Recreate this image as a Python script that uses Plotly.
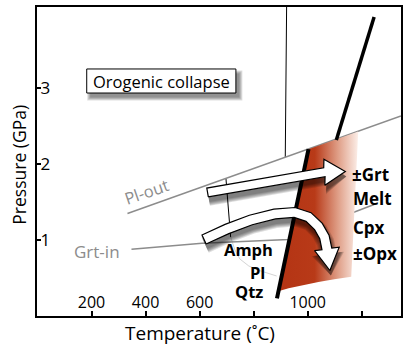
import numpy as np
import plotly.graph_objects as go

# ---- axes -------------------------------------------------------------
T_RANGE = [-1.8, 1345.3]          # temperature, deg C
P_RANGE = [0.01, 4.058]           # pressure, GPa
T_TICKS = [200, 400, 600, 800, 1000, 1200]
T_TICK_TEXT = ["200", "400", "600", "", "1000", ""]
P_TICKS = [1, 2, 3]
P_TICK_TEXT = ["1", "2", "3"]

# ---- reaction curves (T, P) ------------------------------------------
pl_out_T = [333.0, 1345.0]
pl_out_P = [1.353, 2.629]

grt_in_T = [347.8, 609.1, 929.3, 1061.8, 1245.8]
grt_in_P = [0.884, 0.963, 1.012, 1.222, 1.471]

solidus_hi_T = [1245.8, 1106.0]
solidus_hi_P = [3.927, 2.316]
solidus_lo_T = [1003.0, 886.3]
solidus_lo_P = [2.196, 0.242]

thin_hi_T = [922.0, 917.0]
thin_hi_P = [4.06, 2.093]
thin_lo_T = [697.5, 714.8]
thin_lo_P = [1.810, 1.045]

amph_T = [714.8, 730.6, 748.9, 782.1, 826.3, 885.2]
amph_P = [1.045, 0.875, 0.757, 0.665, 0.600, 0.534]

# partial-melt field
melt_T = [1003.0, 894.4, 929.3, 984.5, 1039.7, 1098.6, 1161.2, 1187.0]
melt_P = [2.196, 0.338, 0.373, 0.417, 0.456, 0.491, 0.525, 2.428]

# P-T path arrows: centreline + tip
path1_T = [629.4, 1061.8]
path1_P = [1.628, 1.894]
path1_tip = (1139.2, 1.904)

path2_T = [616.5, 701.2, 789.5, 877.8, 951.4, 1003.0, 1039.7, 1061.8, 1071.0]
path2_P = [1.012, 1.150, 1.268, 1.346, 1.366, 1.307, 1.183, 1.045, 0.888]
path2_tip = (1082.1, 0.606)

# title box
box_T = [182.2, 734.3]
box_P = [2.931, 3.246]
box_text = "Orogenic collapse"

# mineral labels
asm_labels = [("±Grt", 1157.5, 1.870), ("Melt", 1162.0, 1.543),
              ("Cpx", 1162.0, 1.170), ("±Opx", 1160.0, 0.823)]
sub_labels = [("Amph", 780.3, 0.875), ("Pl", 815.2, 0.575), ("Qtz", 784.0, 0.330)]

# ---- geometry helpers -------------------------------------------------
W, H = 405, 347
ML, MR, MT, MB = 37, 2, 7, 31
PW, PH = W - ML - MR, H - MT - MB
FONT = "Open Sans"


def to_px(T, P):
    x = ML + (T - T_RANGE[0]) / (T_RANGE[1] - T_RANGE[0]) * PW
    y = MT + (P_RANGE[1] - P) / (P_RANGE[1] - P_RANGE[0]) * PH
    return np.array([x, y], float)


def to_data(pt):
    x, y = pt
    T = T_RANGE[0] + (x - ML) / PW * (T_RANGE[1] - T_RANGE[0])
    P = P_RANGE[1] - (y - MT) / PH * (P_RANGE[1] - P_RANGE[0])
    return T, P


def arrow_outline(Ts, Ps, tip, half_w, head_half, shift=(0, 0)):
    pts = np.array([to_px(t, p) for t, p in zip(Ts, Ps)])
    tp = to_px(*tip)
    n = len(pts)
    tang = np.zeros_like(pts)
    for i in range(n):
        a = pts[max(i - 1, 0)]
        b = pts[min(i + 1, n - 1)] if i < n - 1 else tp
        d = b - a
        tang[i] = d / np.linalg.norm(d)
    d = tp - pts[-1]
    head_dir = d / np.linalg.norm(d)
    nrm = np.stack([-tang[:, 1], tang[:, 0]], 1)
    hn = np.array([-head_dir[1], head_dir[0]])
    left = pts + nrm * half_w
    right = pts - nrm * half_w
    poly = np.vstack([left, pts[-1] + hn * head_half, tp,
                      pts[-1] - hn * head_half, right[::-1], left[:1]])
    poly = poly + np.array(shift)
    return [to_data(p) for p in poly]


fig = go.Figure()


def line(Ts, Ps, color, width):
    fig.add_trace(go.Scatter(x=Ts, y=Ps, mode="lines",
                             line=dict(color=color, width=width),
                             hoverinfo="skip", showlegend=False))


line(thin_hi_T, thin_hi_P, "black", 1)
line(thin_lo_T, thin_lo_P, "black", 1)
line(amph_T, amph_P, "#d4d4d4", 1)
line(grt_in_T, grt_in_P, "#8c8c8c", 1.5)
line(pl_out_T, pl_out_P, "#8c8c8c", 1.5)

# partial-melt field with horizontal fade
fig.add_trace(go.Scatter(
    x=melt_T + melt_T[:1], y=melt_P + melt_P[:1], mode="lines", fill="toself",
    line=dict(width=0, color="rgba(0,0,0,0)"),
    fillgradient=dict(type="horizontal", colorscale=[
        [0, "#b43414"], [0.45, "#b83a18"], [0.75, "#e0a089"], [1, "#fcefe9"]]),
    hoverinfo="skip", showlegend=False))

line(solidus_hi_T, solidus_hi_P, "black", 3.5)
line(solidus_lo_T, solidus_lo_P, "black", 4)

# arrows with soft drop shadows
for Ts, Ps, tip, hw, hh in [(path1_T, path1_P, path1_tip, 4.5, 13),
                            (path2_T, path2_P, path2_tip, 5, 12.5)]:
    for e in [4, 3, 2, 1, 0]:
        sh = arrow_outline(Ts, Ps, tip, hw + e, hh + e, shift=(1, 5))
        fig.add_trace(go.Scatter(
            x=[p[0] for p in sh], y=[p[1] for p in sh], mode="lines",
            fill="toself", fillcolor="rgba(0,0,0,0.13)",
            line=dict(width=0, color="rgba(0,0,0,0)"),
            hoverinfo="skip", showlegend=False))
    ol = arrow_outline(Ts, Ps, tip, hw, hh)
    fig.add_trace(go.Scatter(
        x=[p[0] for p in ol], y=[p[1] for p in ol], mode="lines",
        fill="toself", fillcolor="white", line=dict(width=1.2, color="black"),
        hoverinfo="skip", showlegend=False))

# title box with shadow
dT = 3.5 * (T_RANGE[1] - T_RANGE[0]) / PW
dP = 4.5 * (P_RANGE[1] - P_RANGE[0]) / PH
for e in [3, 2, 1, 0]:
    eT = e * (T_RANGE[1] - T_RANGE[0]) / PW
    eP = e * (P_RANGE[1] - P_RANGE[0]) / PH
    fig.add_shape(type="rect", x0=box_T[0] + dT - eT, x1=box_T[1] + dT + eT,
                  y0=box_P[0] - dP - eP, y1=box_P[1] - dP + eP,
                  line=dict(width=0), fillcolor="rgba(0,0,0,0.13)")
fig.add_shape(type="rect", x0=box_T[0], x1=box_T[1], y0=box_P[0], y1=box_P[1],
              line=dict(width=1, color="black"), fillcolor="white")
fig.add_annotation(x=(box_T[0] + box_T[1]) / 2, y=(box_P[0] + box_P[1]) / 2,
                   text=box_text, showarrow=False,
                   font=dict(family=FONT, size=16.5, color="black"))

# curve names
fig.add_annotation(x=220.8, y=0.855, text="Grt-in", showarrow=False,
                   font=dict(family=FONT, size=17, color="#8c8c8c"))
fig.add_annotation(x=403.0, y=1.635, text="Pl-out", showarrow=False, textangle=-19,
                   font=dict(family=FONT, size=16.5, color="#8c8c8c"))

for txt, t, p in asm_labels:
    fig.add_annotation(x=t, y=p, text=f"<b>{txt}</b>", showarrow=False,
                       xanchor="left", font=dict(family=FONT, size=17, color="black"))
for txt, t, p in sub_labels:
    fig.add_annotation(x=t, y=p, text=f"<b>{txt}</b>", showarrow=False,
                       font=dict(family=FONT, size=16.5, color="black"))

# axis titles
fig.add_annotation(xref="paper", yref="paper", x=(200.5 - ML) / PW,
                   y=(MT + PH - 333) / PH, text="Temperature (˚C)", showarrow=False,
                   xanchor="center", yanchor="middle",
                   font=dict(family=FONT, size=19, color="black"))
fig.add_annotation(xref="paper", yref="paper", x=(18 - ML) / PW, y=0.49,
                   text="Pressure (GPa)", textangle=-90, showarrow=False,
                   xanchor="center", yanchor="middle",
                   font=dict(family=FONT, size=17.5, color="black"))

fig.update_xaxes(range=T_RANGE, tickvals=T_TICKS, ticktext=T_TICK_TEXT,
                 ticks="inside", ticklen=5, tickwidth=1.5, tickcolor="black",
                 ticklabelposition="inside",
                 tickfont=dict(family=FONT, size=16, color="black"),
                 showline=True, linecolor="black", linewidth=2, mirror=True,
                 showgrid=False, zeroline=False)
fig.update_yaxes(range=P_RANGE, tickvals=P_TICKS, ticktext=P_TICK_TEXT,
                 ticks="inside", ticklen=4, tickwidth=1.5, tickcolor="black",
                 ticklabelposition="inside",
                 tickfont=dict(family=FONT, size=17, color="black"),
                 showline=True, linecolor="black", linewidth=2, mirror=True,
                 showgrid=False, zeroline=False)

fig.update_layout(width=W, height=H, margin=dict(l=ML, r=MR, t=MT, b=MB),
                  paper_bgcolor="white", plot_bgcolor="white", showlegend=False)

fig.write_html("out.html")
